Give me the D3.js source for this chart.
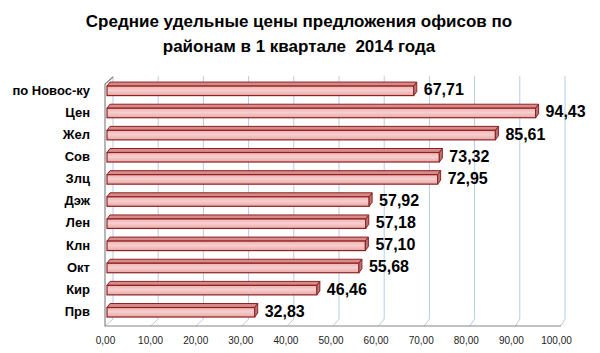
<!DOCTYPE html>
<html>
<head>
<meta charset="utf-8">
<script src="https://cdn.jsdelivr.net/npm/d3@7/dist/d3.min.js"></script>
<style>
  html, body { margin: 0; padding: 0; background: #fff; }
  svg { display: block; }
  .title { white-space: pre; }
</style>
</head>
<body>
<svg id="chart" width="600" height="353"></svg>
<script>
const titleLines = ["Средние удельные цены предложения офисов по", "районам в 1 квартале  2014 года"];
const categories = ["по Новос-ку", "Цен", "Жел", "Сов", "Злц", "Дэж", "Лен", "Клн", "Окт", "Кир", "Прв"];
const values = [67.71, 94.43, 85.61, 73.32, 72.95, 57.92, 57.18, 57.10, 55.68, 46.46, 32.83];
const tickValues = [0, 10, 20, 30, 40, 50, 60, 70, 80, 90, 100];

const svg = d3.select("#chart");
const fmt = v => v.toFixed(2).replace(".", ",");

// scales
const xFront = d3.scaleLinear().domain([0, 100]).range([105, 561]);
const xBack = d3.scaleLinear().domain([0, 100]).range([113, 565]);
const xLabel = d3.scaleLinear().domain([0, 100]).range([105, 556]);
const y = d3.scaleBand().domain(categories).range([78, 321.6]);

const floorFrontY = 326, floorBackY = 319, wallTopY = 76;
const gridColor = "#b8cce4", axisColor = "#868686";

// title
svg.append("g").selectAll("text").data(titleLines).join("text")
  .attr("class", "title")
  .attr("x", 299).attr("y", (d, i) => 27 + i * 25)
  .attr("text-anchor", "middle")
  .attr("font-family", "Liberation Sans, Arial, sans-serif")
  .attr("font-weight", "bold").attr("font-size", 17)
  .attr("fill", "#000")
  .text(d => d);

// back-wall gridlines
const grid = svg.append("g");
grid.selectAll("line.v").data(tickValues).join("line").attr("class", "v")
  .attr("x1", d => xBack(d)).attr("x2", d => xBack(d))
  .attr("y1", wallTopY).attr("y2", floorBackY)
  .attr("stroke", gridColor).attr("stroke-width", 1);
// floor diagonals
grid.selectAll("line.f").data(tickValues).join("line").attr("class", "f")
  .attr("x1", d => xFront(d)).attr("x2", d => xBack(d))
  .attr("y1", floorFrontY).attr("y2", floorBackY)
  .attr("stroke", gridColor).attr("stroke-width", 1);

// left wall front edge and floor front edge
svg.append("path")
  .attr("d", `M${xBack(0)},${wallTopY + 1} L${xFront(0)},${wallTopY + 8} L${xFront(0)},${floorFrontY} L${xFront(100)},${floorFrontY}`)
  .attr("fill", "none").attr("stroke", axisColor).attr("stroke-width", 1.2);

// gradients
const defs = svg.append("defs");
const gFront = defs.append("linearGradient").attr("id", "gFront").attr("x1", 0).attr("y1", 0).attr("x2", 0).attr("y2", 1);
gFront.append("stop").attr("offset", "0%").attr("stop-color", "#efb0b0");
gFront.append("stop").attr("offset", "45%").attr("stop-color", "#f6cfcf");
gFront.append("stop").attr("offset", "100%").attr("stop-color", "#eaa7a7");

// bars
const depthX = 3, depthY = 4;
const barG = svg.append("g");
const rows = categories.map((c, i) => ({ c, v: values[i] }));
const bar = barG.selectAll("g").data(rows).join("g");
const cy = d => y(d.c) + y.bandwidth() / 2;
const x0 = xFront(0) + 2;

// top face
bar.append("path")
  .attr("d", d => {
    const x1 = xFront(d.v), t = cy(d) - 3;
    return `M${x0},${t} L${x0 + depthX},${t - depthY} L${x1 + depthX},${t - depthY} L${x1},${t} Z`;
  })
  .attr("fill", "#d98a8a").attr("stroke", "#8c2222").attr("stroke-width", 1).attr("stroke-linejoin", "round");
// front face
bar.append("rect")
  .attr("x", x0).attr("y", d => cy(d) - 3)
  .attr("width", d => xFront(d.v) - x0).attr("height", 9.5)
  .attr("fill", "url(#gFront)").attr("stroke", "#8c2222").attr("stroke-width", 1.2);
// end cap
bar.append("path")
  .attr("d", d => {
    const x1 = xFront(d.v), t = cy(d) - 3, b = t + 9.5;
    return `M${x1},${t} L${x1 + depthX},${t - depthY} L${x1 + depthX},${b - depthY} L${x1},${b} Z`;
  })
  .attr("fill", "#b97676").attr("stroke", "#8c2222").attr("stroke-width", 1).attr("stroke-linejoin", "round");

// value labels
bar.append("text")
  .attr("x", d => xFront(d.v) + 10).attr("y", d => cy(d) + 2)
  .attr("dominant-baseline", "middle")
  .attr("font-family", "Liberation Sans, Arial, sans-serif")
  .attr("font-weight", "bold").attr("font-size", 16).attr("fill", "#000")
  .text(d => fmt(d.v));

// category labels
svg.append("g").selectAll("text").data(rows).join("text")
  .attr("x", 90).attr("y", d => cy(d) + 2)
  .attr("text-anchor", "end").attr("dominant-baseline", "middle")
  .attr("font-family", "Liberation Sans, Arial, sans-serif")
  .attr("font-weight", "bold").attr("font-size", 13).attr("fill", "#000")
  .text(d => d.c);

// x axis tick labels
const xAxis = d3.axisBottom(xLabel).tickValues(tickValues).tickFormat(fmt).tickSize(0).tickPadding(0);
const ax = svg.append("g").attr("transform", "translate(0,337)").call(xAxis);
ax.select(".domain").remove();
ax.selectAll("text")
  .attr("font-family", "Liberation Sans, Arial, sans-serif")
  .attr("font-size", 10).attr("fill", "#222");
</script>
</body>
</html>
